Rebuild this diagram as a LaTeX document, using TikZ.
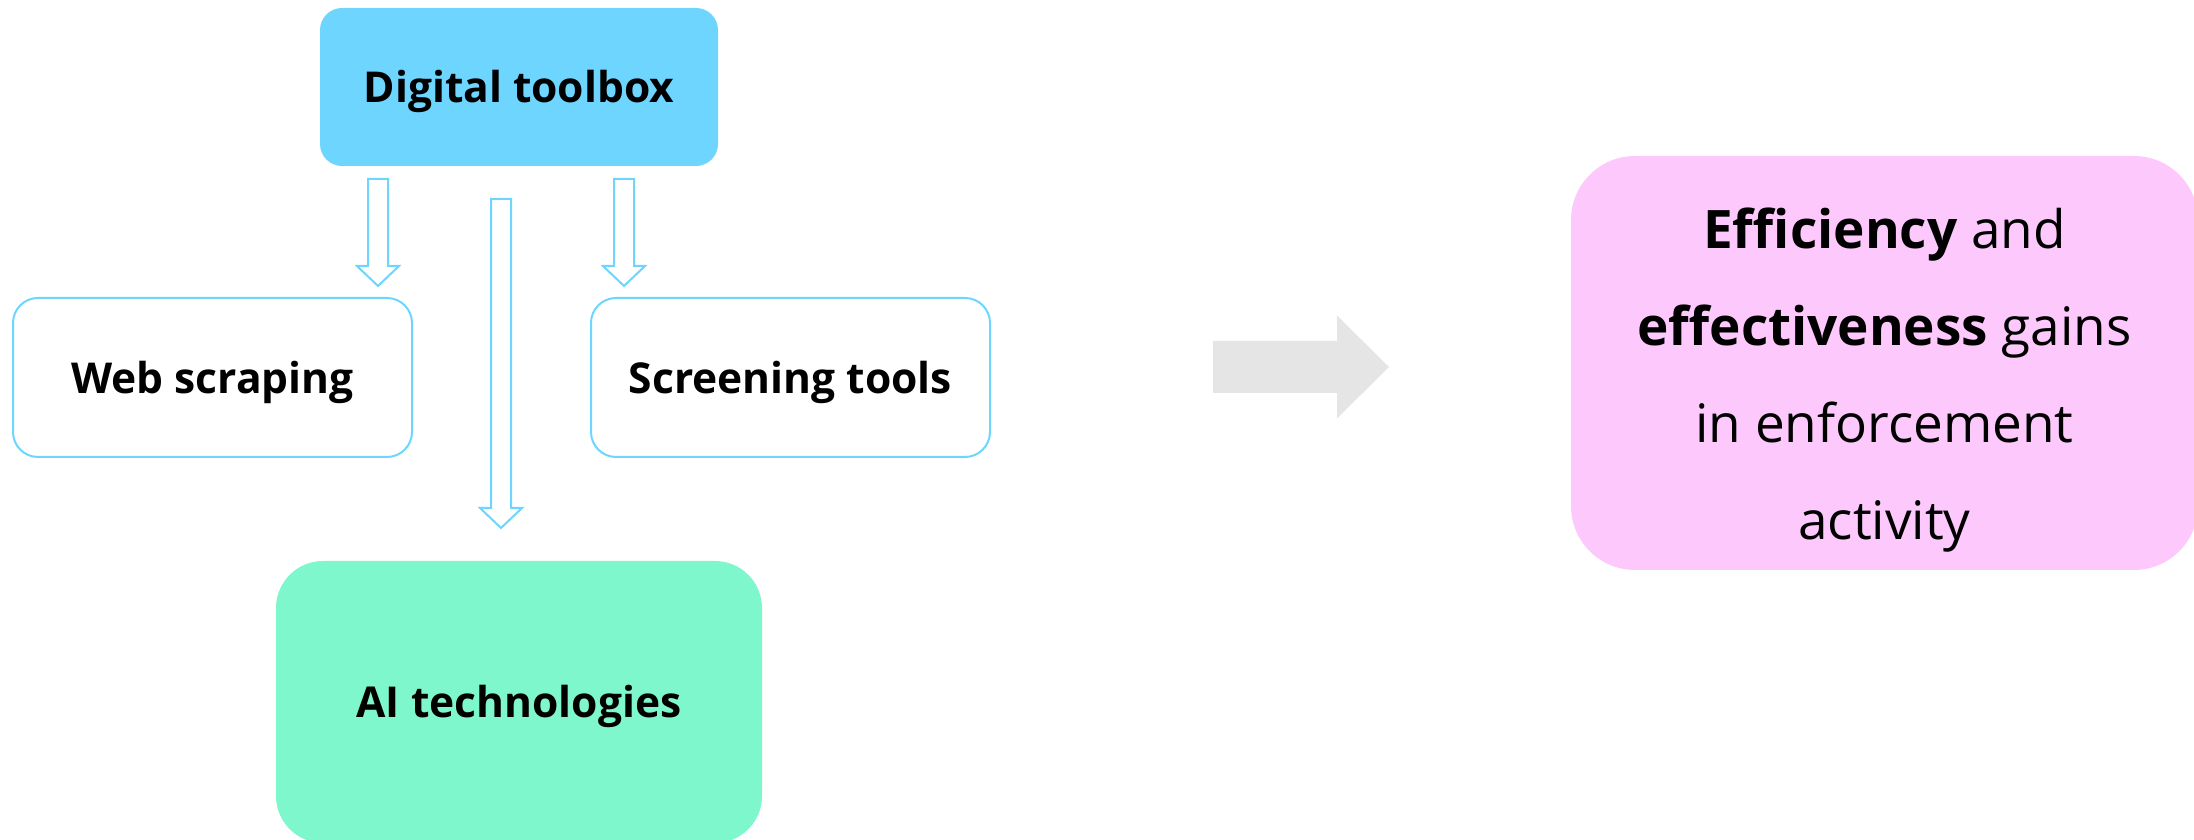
\documentclass[tikz,border=0pt]{standalone}
\usepackage{fontspec}
\setmainfont{Open Sans}
\usetikzlibrary{positioning, calc}

\definecolor{toolblue}{HTML}{6DD5FE}
\definecolor{aigreen}{HTML}{7FF7CC}
\definecolor{gainpink}{HTML}{FDC9FD}
\definecolor{arrowgray}{HTML}{E5E5E5}

\begin{document}
\begin{tikzpicture}[
    x=0.1mm, y=-0.1mm,
    box/.style={rectangle, inner sep=0pt, outer sep=0pt,
                text height=4.1mm, text depth=0.9mm,
                font=\fontsize{12.1pt}{14pt}\selectfont\bfseries},
    tool/.style={box, fill=toolblue, rounded corners=2.2mm,
                 minimum width=39.8mm, minimum height=15.8mm},
    item/.style={box, draw=toolblue, line width=0.2mm, rounded corners=2.5mm,
                 minimum width=39.9mm, minimum height=15.9mm},
    hollow/.style={draw=toolblue, line width=0.2mm,
        to path={([xshift=-1mm]\tikztostart) -- ([xshift=1mm]\tikztostart)
          -- ([xshift=1mm, yshift=2mm]\tikztotarget)
          -- ([xshift=2.1mm, yshift=2mm]\tikztotarget) -- (\tikztotarget)
          -- ([xshift=-2.1mm, yshift=2mm]\tikztotarget)
          -- ([xshift=-1mm, yshift=2mm]\tikztotarget) -- cycle}},
    bigarrow/.style={fill=arrowgray,
        to path={([yshift=2.6mm]\tikztostart)
          -- ([xshift=-5.2mm, yshift=2.6mm]\tikztotarget)
          -- ([xshift=-5.2mm, yshift=5.15mm]\tikztotarget) -- (\tikztotarget)
          -- ([xshift=-5.2mm, yshift=-5.15mm]\tikztotarget)
          -- ([xshift=-5.2mm, yshift=-2.6mm]\tikztotarget)
          -- ([yshift=-2.6mm]\tikztostart) -- cycle}}
]
  \useasboundingbox (0,0) rectangle (2194,840);
  \clip (0,0) rectangle (2194,840);

  % toolbox and its parts
  \node[tool] (tool) at (519,87) {Digital toolbox};
  \node[item] (web) at (212.5,377.5) {Web scraping};
  \node[item] (scr) at (790.5,377.5) {Screening tools};
  \node[box, fill=aigreen, rounded corners=4.7mm,
        minimum width=48.6mm, minimum height=28.2mm] (ai) at (519,702) {AI technologies};

  % outcome
  \node[rectangle, fill=gainpink, rounded corners=6.4mm, inner sep=0pt,
        minimum width=62.7mm, minimum height=41.4mm, align=center,
        font=\fontsize{15.1pt}{27.6pt}\selectfont] (gain) at (1884.5,363)
        {\rule{0pt}{7.5mm}\textbf{Efficiency} and\\ \textbf{effectiveness} gains\\ in enforcement\\ activity};

  % hollow arrows
  \coordinate (a1) at ($(tool.south west)+(58,13)$);
  \coordinate (a2) at ($(web.north east)+(-34,-12)$);
  \coordinate (m1) at ($(tool.south west)+(181,33)$);
  \coordinate (m2) at ($(m1 |- ai.north)+(0,-33)$);
  \coordinate (b1) at ($(tool.south east)+(-94,13)$);
  \coordinate (b2) at ($(scr.north west)+(33,-12)$);
  \draw[hollow] (a1) to (a2);
  \draw[hollow] (m1) to (m2);
  \draw[hollow] (b1) to (b2);

  % big arrow
  \coordinate (g1) at (1213,367);
  \coordinate (g2) at (1389,367);
  \fill[bigarrow] (g1) to (g2);
\end{tikzpicture}
\end{document}
